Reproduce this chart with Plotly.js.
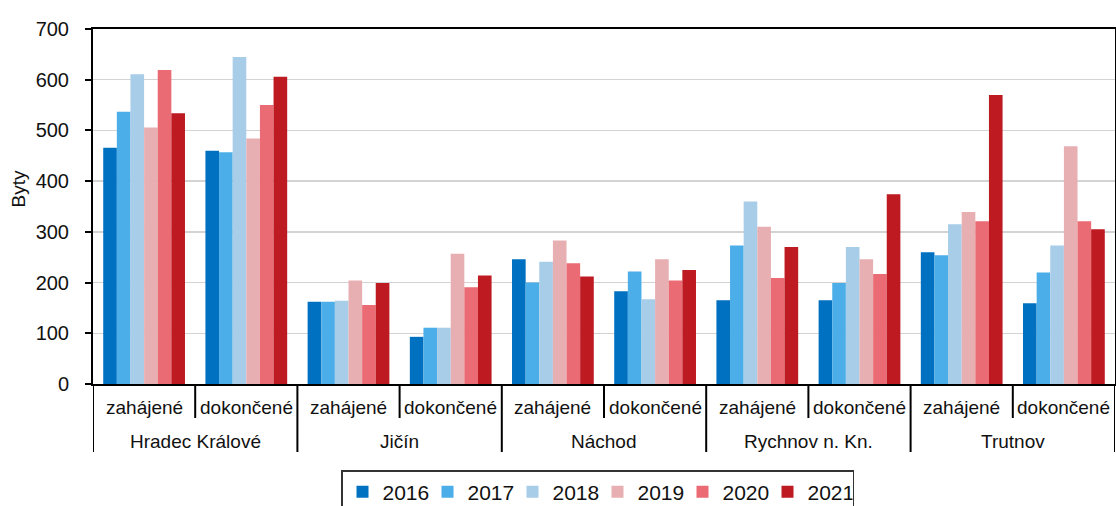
<!DOCTYPE html>
<html>
<head>
<meta charset="utf-8">
<script src="https://cdn.plot.ly/plotly-3.0.1.min.js"></script>
<style>html,body{margin:0;padding:0;background:#fff;}#chart{width:1116px;height:506px;}</style>
</head>
<body>
<div id="chart"></div>
<script>
const regions = ["Hradec Králové", "Jičín", "Náchod", "Rychnov n. Kn.", "Trutnov"];
const types = ["zahájené", "dokončené"];
const years = ["2016", "2017", "2018", "2019", "2020", "2021"];
const colors = ["#0070C0", "#4BAEE8", "#A8CDE8", "#E8AFB3", "#EA6B73", "#BD1A22"];

// order: HK zah, HK dok, Jičín zah, Jičín dok, Náchod zah, Náchod dok, Rychnov zah, Rychnov dok, Trutnov zah, Trutnov dok
const v2016 = [466, 460, 162, 93, 246, 183, 165, 165, 260, 159];
const v2017 = [537, 457, 162, 111, 200, 222, 273, 199, 254, 220];
const v2018 = [611, 645, 164, 111, 241, 167, 360, 270, 315, 273];
const v2019 = [506, 484, 204, 257, 283, 246, 310, 246, 339, 469];
const v2020 = [619, 550, 156, 191, 238, 204, 209, 217, 321, 321];
const v2021 = [534, 606, 199, 214, 212, 225, 270, 374, 570, 305];
const series = [v2016, v2017, v2018, v2019, v2020, v2021];

const cats = [];
const catType = [];
regions.forEach(r => types.forEach(t => { cats.push(r + " | " + t); catType.push(t); }));

const FONT = "Liberation Sans, Arial, sans-serif";

const traces = years.map((y, i) => ({
  type: "bar",
  name: y,
  x: cats,
  y: series[i],
  marker: {color: colors[i], line: {width: 0}}
}));

const annotations = [];
cats.forEach((c, i) => {
  annotations.push({
    x: c, xref: "x", y: 0, yref: "paper", yanchor: "middle", yshift: -23,
    text: catType[i], showarrow: false, font: {family: FONT, size: 19, color: "#111"}
  });
});
regions.forEach((r, i) => {
  annotations.push({
    x: 2 * i + 0.5, xref: "x", y: 0, yref: "paper", yanchor: "middle", yshift: -57,
    text: r, showarrow: false, font: {family: FONT, size: 19, color: "#111"}
  });
});
annotations.push({
  x: 0, xref: "paper", xshift: -75, y: 0.548, yref: "paper",
  xanchor: "center", yanchor: "middle", textangle: -90,
  text: "Byty", showarrow: false, font: {family: FONT, size: 19, color: "#111"}
});

const shapes = [];
for (let k = 0; k <= cats.length; k++) {
  const isGroup = (k % types.length === 0);
  shapes.push({
    type: "line", xref: "x", x0: k - 0.5, x1: k - 0.5,
    yref: "paper", ysizemode: "pixel", yanchor: 0, y0: 0, y1: isGroup ? -68 : -34,
    line: {color: "#000", width: 2}
  });
}

const layout = {
  width: 1116, height: 506,
  margin: {l: 93, r: 1, t: 29, b: 122},
  paper_bgcolor: "#fff", plot_bgcolor: "#fff",
  barmode: "group", bargap: 0.2, bargroupgap: 0,
  showlegend: true,
  legend: {
    orientation: "h", xref: "container", yref: "container",
    x: 0.5354, xanchor: "center", y: 0.0711, yanchor: "top",
    bordercolor: "#333", borderwidth: 1.5,
    font: {family: FONT, size: 21, color: "#111"},
    entrywidth: 40, entrywidthmode: "pixels",
    itemwidth: 30, traceorder: "normal"
  },
  xaxis: {
    type: "category", categoryorder: "array", categoryarray: cats,
    showticklabels: false, ticks: "", showgrid: false,
    showline: true, linecolor: "#000", linewidth: 2, mirror: true,
    range: [-0.5, cats.length - 0.5], fixedrange: true, zeroline: false
  },
  yaxis: {
    range: [0, 700], dtick: 100, tick0: 0,
    showgrid: true, gridcolor: "#D3D3D3", gridwidth: 1.5,
    showline: true, linecolor: "#000", linewidth: 2, mirror: true,
    ticks: "outside", ticklen: 6, tickwidth: 2, tickcolor: "#000",
    ticklabelstandoff: 12,
    tickfont: {family: FONT, size: 20, color: "#111"},
    zeroline: false, fixedrange: true
  },
  annotations: annotations,
  shapes: shapes
};

Plotly.newPlot("chart", traces, layout, {displayModeBar: false, staticPlot: true});
</script>
</body>
</html>
